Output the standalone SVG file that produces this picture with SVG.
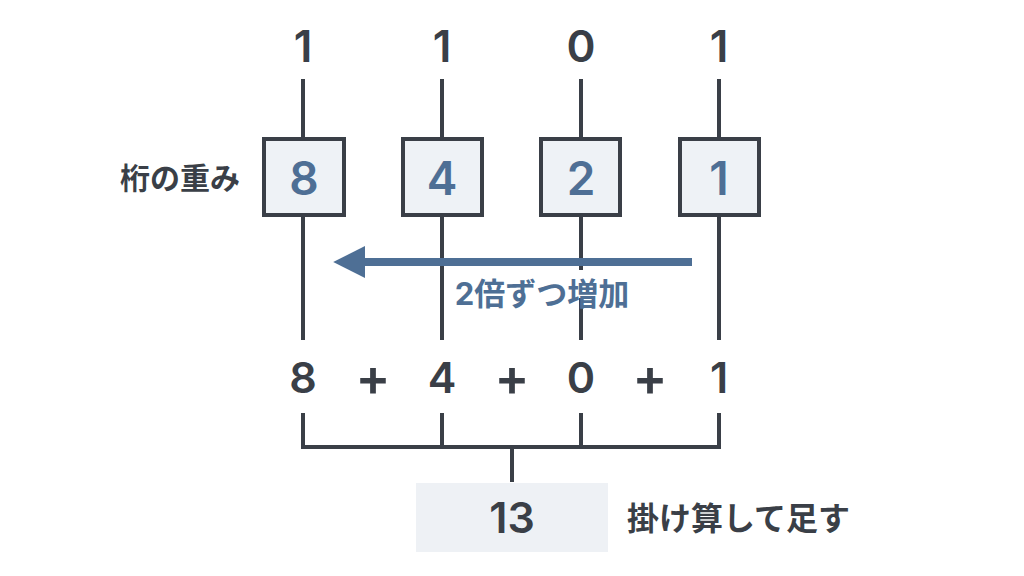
<svg xmlns="http://www.w3.org/2000/svg" width="1024" height="576" viewBox="0 0 1024 576">
<defs>
<style>
.ln{stroke:#3a3f47;stroke-width:4;fill:none}
.box{fill:#eef2f6;stroke:#3a3f47;stroke-width:4}
.dg{font-family:Inter,"Noto Sans",sans-serif;font-weight:600;fill:#3a3f47;text-anchor:middle}
.wt{font-family:Inter,"Noto Sans",sans-serif;font-weight:600;fill:#4e6f95;text-anchor:middle;font-size:46px}
.jp{font-family:"Noto Sans CJK JP","Noto Sans",sans-serif;font-weight:700;fill:#3a3f47}
</style>
<marker id="ah" viewBox="0 0 10 10" refX="1" refY="5" markerWidth="4" markerHeight="4.2" orient="auto-start-reverse" markerUnits="strokeWidth">
<path d="M0,0 L10,5 L0,10 Z" fill="#4e6f95"/>
</marker>
</defs>
<rect width="1024" height="576" fill="#ffffff"/>
<g id="connectors">
<line class="ln" x1="303" y1="79" x2="303" y2="137"/>
<line class="ln" x1="442" y1="79" x2="442" y2="137"/>
<line class="ln" x1="581" y1="79" x2="581" y2="137"/>
<line class="ln" x1="719" y1="79" x2="719" y2="137"/>
<line class="ln" x1="303" y1="217" x2="303" y2="340"/>
<line class="ln" x1="442" y1="217" x2="442" y2="340"/>
<line class="ln" x1="581" y1="217" x2="581" y2="340"/>
<line class="ln" x1="719" y1="217" x2="719" y2="340"/>
<path class="ln" d="M303,413 V447 H719 V413 M442,413 V447 M581,413 V447 M512,447 V482" stroke-linejoin="miter"/>
<line x1="692" y1="262" x2="362" y2="262" stroke="#4e6f95" stroke-width="8" marker-end="url(#ah)"/>
</g>
<g id="bits">
<text class="dg" x="303" y="62" font-size="44">1</text>
<text class="dg" x="442" y="62" font-size="44">1</text>
<text class="dg" x="581" y="62" font-size="44">0</text>
<text class="dg" x="719" y="62" font-size="44">1</text>
</g>
<g id="w8"><rect class="box" x="264" y="139" width="80" height="76"/><text class="wt" x="304" y="195">8</text></g>
<g id="w4"><rect class="box" x="403" y="139" width="79" height="76"/><text class="wt" x="442" y="195">4</text></g>
<g id="w2"><rect class="box" x="541" y="139" width="79" height="76"/><text class="wt" x="581" y="195">2</text></g>
<g id="w1"><rect class="box" x="680" y="139" width="79" height="76"/><text class="wt" x="719" y="195">1</text></g>
<g id="label-weight"><text class="jp" x="240" y="189" font-size="30" text-anchor="end">桁の重み</text></g>
<g id="label-double">
<rect x="448" y="270" width="188" height="28" fill="#ffffff"/>
<text x="542" y="305" font-size="31" text-anchor="middle" font-family="Inter,'Noto Sans CJK JP',sans-serif" font-weight="700" fill="#4e6f95">2倍ずつ増加</text>
</g>
<g id="sum">
<text class="dg" x="303" y="393" font-size="43">8</text>
<text class="dg" x="373" y="396" font-size="52">+</text>
<text class="dg" x="442" y="393" font-size="43">4</text>
<text class="dg" x="512" y="396" font-size="52">+</text>
<text class="dg" x="581" y="393" font-size="43">0</text>
<text class="dg" x="650" y="396" font-size="52">+</text>
<text class="dg" x="719" y="393" font-size="43">1</text>
</g>
<g id="result">
<rect x="416" y="483" width="192" height="69" fill="#eef1f5"/>
<text class="dg" x="512" y="533" font-size="43">13</text>
</g>
<g id="label-sum"><text class="jp" x="627" y="530" font-size="32">掛け算して足す</text></g>
</svg>
